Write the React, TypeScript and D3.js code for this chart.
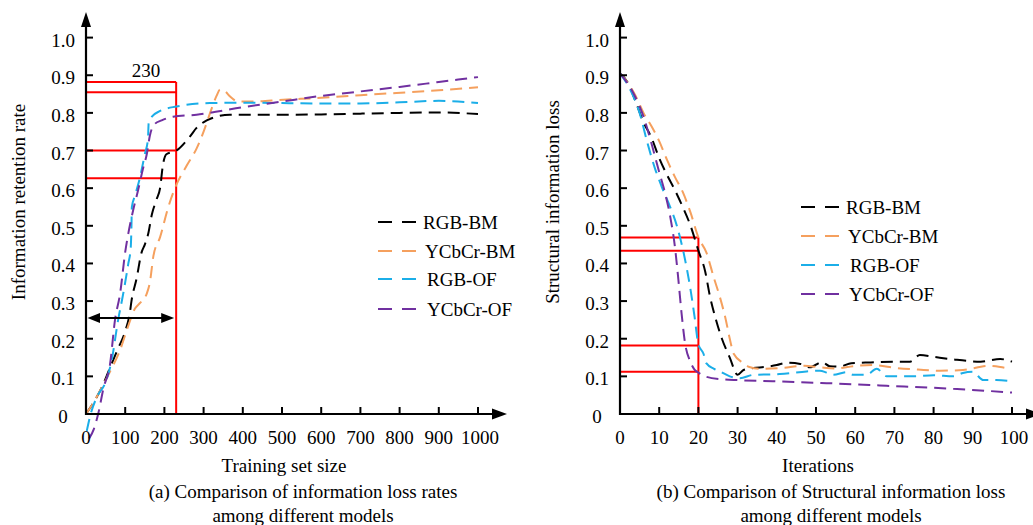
import React from "react";
import * as d3 from "d3";

// ---------- shared ----------
const seriesNames = ["RGB-BM", "YCbCr-BM", "RGB-OF", "YCbCr-OF"];
const seriesColors = ["#000000", "#F5A05E", "#1BAEE8", "#7030A0"];
const yTickValues = [0, 0.1, 0.2, 0.3, 0.4, 0.5, 0.6, 0.7, 0.8, 0.9, 1.0];
const yTickLabels = ["0", "0.1", "0.2", "0.3", "0.4", "0.5", "0.6", "0.7", "0.8", "0.9", "1.0"];

// ---------- left panel: information retention rate vs training set size ----------
const leftXTicks = [0, 100, 200, 300, 400, 500, 600, 700, 800, 900, 1000];
const leftRgbBmX = [0, 19, 40, 60, 80, 100, 112, 116, 129, 142, 150, 159, 168, 180, 189, 196, 205, 231, 265, 282, 308, 333, 367, 400, 500, 600, 700, 800, 900, 1000];
const leftRgbBmY = [0, 0.03, 0.07, 0.12, 0.17, 0.22, 0.27, 0.30, 0.36, 0.43, 0.45, 0.48, 0.53, 0.57, 0.60, 0.66, 0.69, 0.70, 0.737, 0.76, 0.78, 0.79, 0.795, 0.795, 0.795, 0.796, 0.798, 0.80, 0.801, 0.797];
const leftYcbBmX = [0, 19, 40, 60, 87, 108, 125, 138, 155, 163, 172, 189, 210, 231, 257, 282, 300, 320, 333, 342, 355, 367, 389, 420, 503, 600, 700, 792, 900, 1000];
const leftYcbBmY = [0, 0.03, 0.07, 0.11, 0.17, 0.235, 0.28, 0.295, 0.32, 0.35, 0.42, 0.47, 0.55, 0.61, 0.66, 0.705, 0.75, 0.81, 0.845, 0.862, 0.857, 0.844, 0.83, 0.83, 0.835, 0.84, 0.847, 0.853, 0.86, 0.868];
const leftRgbOfX = [2, 12, 30, 48, 65, 82, 95, 108, 114, 116, 117, 125, 138, 150, 158, 160, 168, 189, 231, 316, 400, 500, 600, 700, 800, 900, 1000];
const leftRgbOfY = [-0.045, 0.0, 0.05, 0.08, 0.14, 0.25, 0.32, 0.40, 0.44, 0.50, 0.55, 0.58, 0.63, 0.69, 0.73, 0.775, 0.79, 0.805, 0.817, 0.826, 0.827, 0.826, 0.825, 0.825, 0.828, 0.832, 0.826];
const leftYcbOfX = [8, 20, 31, 45, 61, 74, 87, 100, 108, 120, 133, 145, 155, 163, 175, 193, 222, 282, 316, 400, 500, 600, 700, 800, 900, 1000];
const leftYcbOfY = [-0.065, -0.04, 0.0, 0.07, 0.13, 0.25, 0.32, 0.43, 0.48, 0.54, 0.595, 0.65, 0.69, 0.74, 0.77, 0.78, 0.79, 0.795, 0.80, 0.815, 0.83, 0.845, 0.857, 0.869, 0.882, 0.895];
const leftMarkX = 230;
const leftMarkYs = [0.882, 0.855, 0.70, 0.626];
const leftSpanY = 0.255;

// ---------- right panel: structural information loss vs iterations ----------
const rightXTicks = [0, 10, 20, 30, 40, 50, 60, 70, 80, 90, 100];
const rightRgbBmX = [0, 2, 4, 6, 8, 10, 12, 14, 16, 18, 20, 21.7, 23, 24.5, 26, 28, 30, 31.5, 34, 37, 40, 42.5, 46, 48.5, 51.5, 53.5, 56, 59, 64, 70, 74, 76.5, 80, 85, 92, 97, 100];
const rightRgbBmY = [0.905, 0.88, 0.83, 0.775, 0.735, 0.68, 0.635, 0.595, 0.55, 0.50, 0.434, 0.38, 0.31, 0.25, 0.20, 0.15, 0.104, 0.117, 0.122, 0.125, 0.13, 0.136, 0.133, 0.124, 0.138, 0.127, 0.126, 0.135, 0.137, 0.139, 0.139, 0.157, 0.152, 0.145, 0.139, 0.146, 0.139];
const rightYcbBmX = [0, 2, 4, 6, 8, 10, 12, 14, 16, 18, 20, 22, 24, 25.5, 27, 28, 29, 31.5, 33, 36, 41, 47, 51, 55, 59.5, 64.6, 70.6, 76, 81.6, 87.5, 94, 97, 99.5];
const rightYcbBmY = [0.905, 0.88, 0.845, 0.80, 0.765, 0.725, 0.675, 0.63, 0.59, 0.535, 0.469, 0.43, 0.36, 0.31, 0.25, 0.20, 0.16, 0.135, 0.125, 0.12, 0.122, 0.128, 0.124, 0.121, 0.127, 0.13, 0.122, 0.118, 0.115, 0.117, 0.128, 0.125, 0.12];
const rightRgbOfX = [0, 2.6, 5, 7, 9, 10.6, 12.8, 14.5, 16.6, 18, 19, 20, 21.3, 22, 24, 25.5, 28, 30.6, 34, 40.8, 47.6, 51, 52.7, 54.4, 57.8, 59.5, 62.9, 65.5, 68, 74.8, 80, 85, 87.5, 90, 92.7, 96, 100];
const rightRgbOfY = [0.905, 0.862, 0.80, 0.72, 0.65, 0.605, 0.55, 0.50, 0.41, 0.33, 0.26, 0.185, 0.16, 0.135, 0.12, 0.113, 0.10, 0.095, 0.104, 0.106, 0.113, 0.115, 0.11, 0.104, 0.111, 0.104, 0.104, 0.12, 0.10, 0.10, 0.103, 0.10, 0.109, 0.112, 0.09, 0.09, 0.087];
const rightYcbOfX = [0, 3.4, 6, 8, 9.8, 11.5, 12.8, 14, 14.9, 15.7, 16.6, 17.9, 19, 20, 22, 26.4, 30, 39, 52.7, 68, 85, 100];
const rightYcbOfY = [0.905, 0.853, 0.79, 0.72, 0.65, 0.587, 0.525, 0.445, 0.356, 0.268, 0.188, 0.14, 0.118, 0.11, 0.099, 0.092, 0.09, 0.087, 0.082, 0.075, 0.067, 0.057];
const rightMarkX = 20;
const rightMarkYs = [0.469, 0.434, 0.182, 0.112];

const FONT = "'Liberation Serif', 'Times New Roman', serif";
const FS = 19;

function zip(xs: number[], ys: number[]): [number, number][] {
  return xs.map((x, i) => [x, ys[i]]);
}

type PanelProps = {
  x0: number;
  x1: number;
  xDomain: [number, number];
  xTicks: number[];
  series: [number, number][][];
  yLabelCenter: number;
  yTitle: string;
  yTitleX: number;
  xTitle: string;
  caption: string[];
  captionX: number;
  legendX: number;
  legendTextX: number[];
  legendYs: number[];
  markX: number;
  markYs: number[];
  markLabel?: string;
  markLabelX?: number;
  spanY?: number;
};

const Y0 = 414;
const Y1 = 37.6;

function Panel(p: PanelProps) {
  const x = d3.scaleLinear().domain(p.xDomain).range([p.x0, p.x1]);
  const y = d3.scaleLinear().domain([0, 1]).range([Y0, Y1]);
  const line = d3
    .line<[number, number]>()
    .x((d) => x(d[0]))
    .y((d) => y(d[1]))
    .curve(d3.curveMonotoneX);
  const ax = p.x0;
  const arrowEnd = p.x1 + 29;
  const mx = x(p.markX);
  return (
    <g fontFamily={FONT} fontSize={FS} fill="#000">
      {/* red markers */}
      <g stroke="#FF0000" strokeWidth={2} fill="none">
        <line x1={mx} x2={mx} y1={Y0} y2={y(p.markYs[0])} />
        {p.markYs.map((v, i) => (
          <line key={i} x1={ax} x2={mx} y1={y(v)} y2={y(v)} />
        ))}
      </g>
      {/* series */}
      {p.series.map((s, i) => (
        <path
          key={i}
          d={line(s) || ""}
          fill="none"
          stroke={seriesColors[i]}
          strokeWidth={2}
          strokeDasharray="12,7"
        />
      ))}
      {/* axes */}
      <line x1={ax} x2={ax} y1={Y0 + 1} y2={24} stroke="#000" strokeWidth={2.2} />
      <path d={`M${ax},12 L${ax - 5},27 L${ax + 5},27 Z`} fill="#000" />
      <line x1={ax - 1} x2={arrowEnd - 12} y1={Y0} y2={Y0} stroke="#000" strokeWidth={2.2} />
      <path d={`M${arrowEnd},${Y0} L${arrowEnd - 15},${Y0 - 5.5} L${arrowEnd - 15},${Y0 + 5.5} Z`} fill="#000" />
      {/* ticks */}
      {yTickValues.slice(1).map((v, i) => (
        <line key={"yt" + i} x1={ax} x2={ax + 7} y1={y(v)} y2={y(v)} stroke="#000" strokeWidth={2} />
      ))}
      {p.xTicks.slice(1).map((v, i) => (
        <line key={"xt" + i} x1={x(v)} x2={x(v)} y1={Y0} y2={Y0 - 7} stroke="#000" strokeWidth={2} />
      ))}
      {yTickValues.map((v, i) => (
        <text key={"yl" + i} x={p.yLabelCenter} y={y(v) + 9} textAnchor="middle">
          {yTickLabels[i]}
        </text>
      ))}
      {p.xTicks.map((v, i) => (
        <text key={"xl" + i} x={x(v) + (i === p.xTicks.length - 1 ? 2 : 0)} y={443.5} textAnchor="middle">
          {String(v)}
        </text>
      ))}
      {/* titles */}
      <text x={(p.x0 + p.x1) / 2 + 2} y={472} textAnchor="middle">
        {p.xTitle}
      </text>
      <text
        transform={`translate(${p.yTitleX},202) rotate(-90)`}
        textAnchor="middle"
      >
        {p.yTitle}
      </text>
      {p.caption.map((c, i) => (
        <text key={"c" + i} x={p.captionX} y={498 + i * 24} textAnchor="middle">
          {c}
        </text>
      ))}
      {/* legend */}
      {seriesNames.map((n, i) => (
        <g key={"lg" + i}>
          <line
            x1={p.legendX}
            x2={p.legendX + 38}
            y1={p.legendYs[i]}
            y2={p.legendYs[i]}
            stroke={seriesColors[i]}
            strokeWidth={2.2}
            strokeDasharray="14,10"
          />
          <text x={p.legendTextX[i]} y={p.legendYs[i] + 6.5}>
            {n}
          </text>
        </g>
      ))}
      {/* annotations */}
      {p.markLabel && p.markLabelX !== undefined && (
        <text x={x(p.markLabelX)} y={y(p.markYs[0]) - 5} textAnchor="middle">
          {p.markLabel}
        </text>
      )}
      {p.spanY !== undefined && (
        <g>
          <line x1={ax + 10} x2={mx - 12} y1={y(p.spanY)} y2={y(p.spanY)} stroke="#000" strokeWidth={2} />
          <path
            d={`M${ax + 1.5},${y(p.spanY)} L${ax + 14},${y(p.spanY) - 5} L${ax + 14},${y(p.spanY) + 5} Z`}
            fill="#000"
          />
          <path
            d={`M${mx - 2},${y(p.spanY)} L${mx - 15},${y(p.spanY) - 5} L${mx - 15},${y(p.spanY) + 5} Z`}
            fill="#000"
          />
        </g>
      )}
    </g>
  );
}

export default function App() {
  const leftSeries = [
    zip(leftRgbBmX, leftRgbBmY),
    zip(leftYcbBmX, leftYcbBmY),
    zip(leftRgbOfX, leftRgbOfY),
    zip(leftYcbOfX, leftYcbOfY),
  ];
  const rightSeries = [
    zip(rightRgbBmX, rightRgbBmY),
    zip(rightYcbBmX, rightYcbBmY),
    zip(rightRgbOfX, rightRgbOfY),
    zip(rightYcbOfX, rightYcbOfY),
  ];
  return (
    <svg
      width={1033}
      height={525}
      viewBox="0 0 1033 525"
      style={{ position: "absolute", left: 0, top: 0, background: "#fff" }}
    >
      <rect width={1033} height={525} fill="#fff" />
      <Panel
        x0={86}
        x1={478}
        xDomain={[0, 1000]}
        xTicks={leftXTicks}
        series={leftSeries}
        yLabelCenter={63}
        yTitle="Information retention rate"
        yTitleX={24.5}
        xTitle="Training set size"
        caption={["(a) Comparison of information loss rates", "among different models"]}
        captionX={303}
        legendX={378}
        legendTextX={[423, 425, 427, 427]}
        legendYs={[222, 251, 279, 309]}
        markX={leftMarkX}
        markYs={leftMarkYs}
        markLabel="230"
        markLabelX={153}
        spanY={leftSpanY}
      />
      <Panel
        x0={620}
        x1={1012}
        xDomain={[0, 100]}
        xTicks={rightXTicks}
        series={rightSeries}
        yLabelCenter={597}
        yTitle="Structural information loss"
        yTitleX={559}
        xTitle="Iterations"
        caption={["(b) Comparison of Structural information loss", "among different models"]}
        captionX={831}
        legendX={801}
        legendTextX={[846, 848, 850, 849]}
        legendYs={[207, 236, 265, 294]}
        markX={rightMarkX}
        markYs={rightMarkYs}
      />
    </svg>
  );
}
